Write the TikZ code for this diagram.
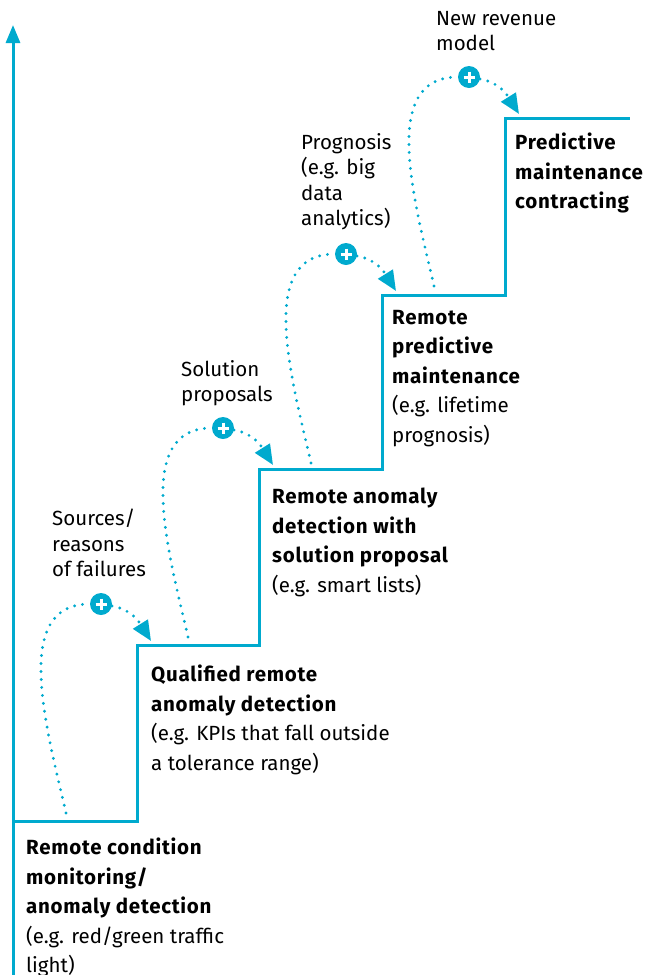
\documentclass[tikz,border=0pt]{standalone}
\usepackage{fontspec}
\setmainfont{Fira Sans}[BoldFeatures={LetterSpace=3.5}]
\usetikzlibrary{arrows.meta}
\definecolor{stepcyan}{RGB}{0,170,206}
\tikzset{
	stair/.style={stepcyan, line width=3pt},
	dotline/.style={stepcyan, line width=3.2pt, line cap=round, dash pattern=on 0pt off 8pt},
	plusdot/.style={circle, fill=stepcyan, minimum size=22pt, inner sep=0pt},
	plusbar/.style={white, line width=3pt},
	stagetext/.style={anchor=north west, inner sep=0pt, align=left, font=\fontsize{20.5}{29.5}\selectfont},
	notetext/.style={anchor=north west, inner sep=0pt, align=left, font=\fontsize{20.5}{25.5}\selectfont}
}

\begin{document}
\begin{tikzpicture}[x=1pt,y=-1pt]
	\useasboundingbox (0,0) rectangle (659,975);
	% axis and stairs
	\coordinate (base) at (13,975);
	\coordinate (top) at (13,25);
	\draw[stair, -{Triangle[length=18pt,width=14pt]}] (base) -- (top);
	\draw[stair] (13,821) -- (137,821) -- (137,645) -- (259,645) -- (259,469)
		-- (382,469) -- (382,295) -- (505,295) -- (505,118) -- (630,118);

	% steps up
	\foreach \i/\x/\y in {1/137/645, 2/259/469, 3/382/295, 4/505/118} {
		\coordinate (start\i) at (\x-71,\y+168);
		\node[plusdot] (plus\i) at (\x-36,\y-41) {};
		\coordinate (tip\i) at (\x+14,\y-4);
		\draw[dotline] (start\i) to[out=103,in=180,out looseness=1.1,in looseness=0.95] (plus\i);
		\draw[dotline, -{Triangle[length=20pt,width=17pt]}] (plus\i) to[out=-10,in=122] (tip\i);
		\draw[plusbar] (plus\i) +(-5.5,0) -- +(5.5,0) (plus\i) +(0,-5.5) -- +(0,5.5);
	}

	\node[stagetext] (stage1) at (26,838) {\textbf{Remote condition}\\\textbf{monitoring/}\\\textbf{anomaly detection}\\(e.g. red/green traffic\\light)};
	\node[stagetext] (stage2) at (151,665) {\textbf{Qualified remote}\\\textbf{anomaly detection}\\(e.g. KPIs that fall outside\\a tolerance range)};
	\node[stagetext] (stage3) at (272,488) {\textbf{Remote anomaly}\\\textbf{detection with}\\\textbf{solution proposal}\\(e.g. smart lists)};
	\node[stagetext] (stage4) at (392,310) {\textbf{Remote}\\\textbf{predictive}\\\textbf{maintenance}\\(e.g. lifetime\\prognosis)};
	\node[stagetext] (stage5) at (515,133) {\textbf{Predictive}\\\textbf{maintenance}\\\textbf{contracting}};

	\node[notetext] (note1) at (52,509) {Sources/\\reasons\\of failures};
	\node[notetext] (note2) at (181,360) {Solution\\proposals};
	\node[notetext] (note3) at (301,133) {Prognosis\\(e.g. big\\data\\analytics)};
	\node[notetext] (note4) at (436,11) {New revenue\\model};
\end{tikzpicture}
\end{document}
